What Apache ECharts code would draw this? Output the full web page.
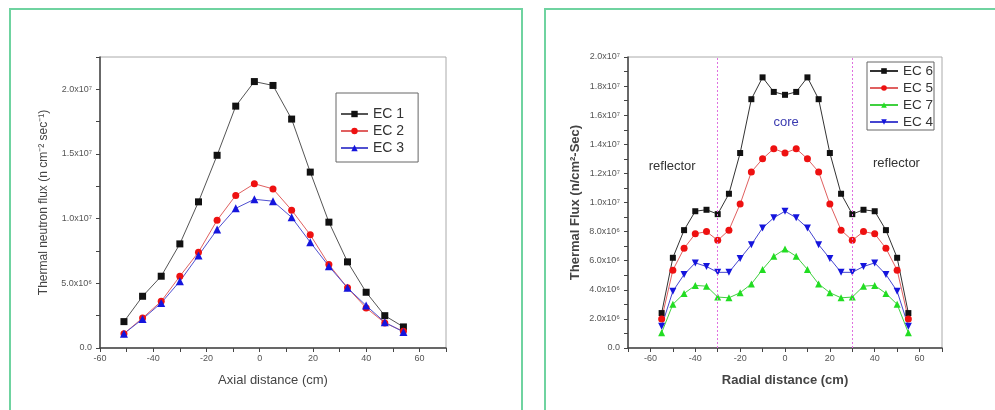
<!DOCTYPE html>
<html><head><meta charset="utf-8">
<script src="https://cdn.jsdelivr.net/npm/echarts@6/dist/echarts.min.js"></script>
<style>html,body{margin:0;padding:0;background:#fff}#c{width:995px;height:410px}</style>
</head><body><div id="c"></div><script>
// Left chart: axial distance (cm) vs thermal neutron flux (units of 1e6 n cm^-2 s^-1)
const axialX = [-51,-44,-37,-30,-23,-16,-9,-2,5,12,19,26,33,40,47,54];
const ec1 = [2.04,4.0,5.55,8.05,11.3,14.9,18.7,20.6,20.3,17.7,13.6,9.73,6.66,4.31,2.5,1.63];
const ec2 = [1.11,2.32,3.61,5.55,7.41,9.88,11.8,12.7,12.3,10.66,8.75,6.45,4.65,3.1,1.94,1.29];
const ec3 = [1.11,2.24,3.48,5.16,7.15,9.16,10.8,11.5,11.35,10.1,8.18,6.32,4.65,3.28,1.99,1.24];
// Right chart: radial distance (cm) vs thermal flux (units of 1e6)
const radialX = [-55,-50,-45,-40,-35,-30,-25,-20,-15,-10,-5,0,5,10,15,20,25,30,35,40,45,50,55];
const ec6 = [2.4,6.2,8.1,9.4,9.5,9.2,10.6,13.4,17.1,18.6,17.6,17.4,17.6,18.6,17.1,13.4,10.6,9.2,9.5,9.4,8.1,6.2,2.4];
const ec5 = [2.0,5.35,6.85,7.85,8.0,7.4,8.1,9.9,12.1,13.0,13.7,13.4,13.7,13.0,12.1,9.9,8.1,7.4,8.0,7.85,6.85,5.35,2.0];
const ec7 = [1.05,3.0,3.75,4.3,4.25,3.5,3.45,3.8,4.4,5.4,6.3,6.8,6.3,5.4,4.4,3.8,3.45,3.5,4.25,4.3,3.75,3.0,1.05];
const ec4 = [1.5,3.9,5.05,5.85,5.6,5.2,5.2,6.15,7.1,8.25,8.95,9.4,8.95,8.25,7.1,6.15,5.2,5.2,5.6,5.85,5.05,3.9,1.5];
const regionLines = [-30, 30];
const annotations = [
  {name:'reflector', coord:[-50.3, 12.5], color:'#333'},
  {name:'core', coord:[0.5, 15.5], color:'#3a3ab0'},
  {name:'reflector', coord:[49.7, 12.7], color:'#333'}
];

const FONT = 'Arial, "Liberation Sans", sans-serif';
const SUP = {6:'\u2076', 7:'\u2077'};
function sci(v){
  if (Math.abs(v) < 1e-9) return '0.0';
  const e = v >= 10 ? 7 : 6;
  const m = v >= 10 ? v/10 : v;
  return m.toFixed(1) + 'x10' + SUP[e];
}
function pairs(xs, ys){ return xs.map((x,i)=>[x, ys[i]]); }
const downTri = 'path://M0,0 L10,0 L5,9 Z';

function xAxisCfg(gi, min, max, name, bold){
  return {
    type:'value', gridIndex:gi, min:min, max:max, interval:10,
    name:name, nameLocation:'middle', nameGap:26,
    nameTextStyle:{fontFamily:FONT, fontSize:13, color:'#444', fontWeight: bold?'bold':'normal'},
    axisLine:{show:true, onZero:false, lineStyle:{color:'#444', width:1.5}},
    axisTick:{show:true, inside:false, length:4, lineStyle:{color:'#444'}},
    axisLabel:{fontFamily:FONT, fontSize:9, color:'#555', margin:6,
      formatter:v => (v % 20 === 0 && Math.abs(v) <= 60) ? String(v) : ''},
    splitLine:{show:false}
  };
}
function yAxisCfg(gi, max, interval, labelStep, name, bold, gap, fs){
  return {
    type:'value', gridIndex:gi, min:0, max:max, interval:interval,
    name:name, nameLocation:'middle', nameGap:gap, nameRotate:90,
    nameTextStyle:{fontFamily:FONT, fontSize:fs, color:'#444', fontWeight: bold?'bold':'normal'},
    axisLine:{show:true, onZero:false, lineStyle:{color:'#444', width:1.5}},
    axisTick:{show:true, inside:false, length:4, lineStyle:{color:'#444'}},
    axisLabel:{fontFamily:FONT, fontSize:9, color:'#555', margin:8,
      formatter:v => (Math.abs(v/labelStep - Math.round(v/labelStep)) < 1e-6 && v <= 20.001) ? sci(v) : ''},
    splitLine:{show:false}
  };
}
function lineSeries(name, xs, ys, xi, yi, color, lineColor, symbol, size){
  return {
    name:name, type:'line', xAxisIndex:xi, yAxisIndex:yi,
    data:pairs(xs, ys), symbol:symbol, symbolSize:size,
    itemStyle:{color:color}, lineStyle:{color:lineColor, width:1},
    animation:false
  };
}

const chart = echarts.init(document.getElementById('c'), null, {renderer:'canvas'});
const ec6Series = lineSeries('EC 6', radialX, ec6, 1, 1, '#111', '#333', 'rect', 6);
ec6Series.markLine = {
  silent:true, symbol:'none', label:{show:false}, animation:false,
  lineStyle:{color:'#e070e0', type:[2,2], width:1, opacity:1},
  emphasis:{disabled:true},
  data: regionLines.map(x => ({xAxis:x, lineStyle:{color:'#e070e0', type:[2,2], width:1}}))
};
ec6Series.markPoint = {
  silent:true, symbol:'circle', symbolSize:0, animation:false,
  data: annotations.map(a => ({name:a.name, coord:a.coord,
    label:{show:true, formatter:'{b}', position:'inside', color:a.color, fontSize:13, fontFamily:FONT}}))
};

chart.setOption({
  backgroundColor:'#fff',
  animation:false,
  graphic:[
    {type:'rect', shape:{x:10, y:9, width:512, height:430}, style:{fill:null, stroke:'#6fd3a0', lineWidth:2}, silent:true},
    {type:'rect', shape:{x:545, y:9, width:500, height:430}, style:{fill:null, stroke:'#6fd3a0', lineWidth:2}, silent:true}
  ],
  grid:[
    {left:100, top:57, width:346, height:291, show:true, borderColor:'#aaa', borderWidth:1, backgroundColor:'transparent'},
    {left:628, top:57, width:314, height:291, show:true, borderColor:'#aaa', borderWidth:1, backgroundColor:'transparent'}
  ],
  xAxis:[
    xAxisCfg(0, -60, 70, 'Axial distance (cm)', false),
    xAxisCfg(1, -70, 70, 'Radial distance (cm)', true)
  ],
  yAxis:[
    yAxisCfg(0, 22.5, 2.5, 5, 'Thermal neutron flux (n cm\u207B\u00B2 sec\u207B\u00B9)', false, 50, 12),
    yAxisCfg(1, 20, 1, 2, 'Thermal Flux (n/cm\u00B2-Sec)', true, 46, 13)
  ],
  legend:[
    {data:['EC 1','EC 2','EC 3'], orient:'vertical', left:336, top:93,
     itemWidth:27, itemHeight:8, itemGap:1, padding:[13,14,6,4],
     borderColor:'#666', borderWidth:1, backgroundColor:'#fff',
     textStyle:{fontFamily:FONT, fontSize:14, color:'#333', lineHeight:16}},
    {data:['EC 6','EC 5','EC 7','EC 4'], orient:'vertical', left:867, top:62,
     itemWidth:28, itemHeight:7, itemGap:1, padding:[1,1,0,2],
     borderColor:'#666', borderWidth:1, backgroundColor:'#fff',
     textStyle:{fontFamily:FONT, fontSize:13.5, color:'#333', lineHeight:16}}
  ],
  series:[
    lineSeries('EC 1', axialX, ec1, 0, 0, '#111', '#555', 'rect', 7),
    lineSeries('EC 2', axialX, ec2, 0, 0, '#ee1111', '#e06060', 'circle', 7),
    lineSeries('EC 3', axialX, ec3, 0, 0, '#1515dd', '#5050d0', 'triangle', 8),
    ec6Series,
    lineSeries('EC 5', radialX, ec5, 1, 1, '#ee1111', '#e06060', 'circle', 7),
    lineSeries('EC 7', radialX, ec7, 1, 1, '#22dd22', '#40d040', 'triangle', 7),
    lineSeries('EC 4', radialX, ec4, 1, 1, '#1515dd', '#4545d0', downTri, 7)
  ]
});
</script></body></html>
